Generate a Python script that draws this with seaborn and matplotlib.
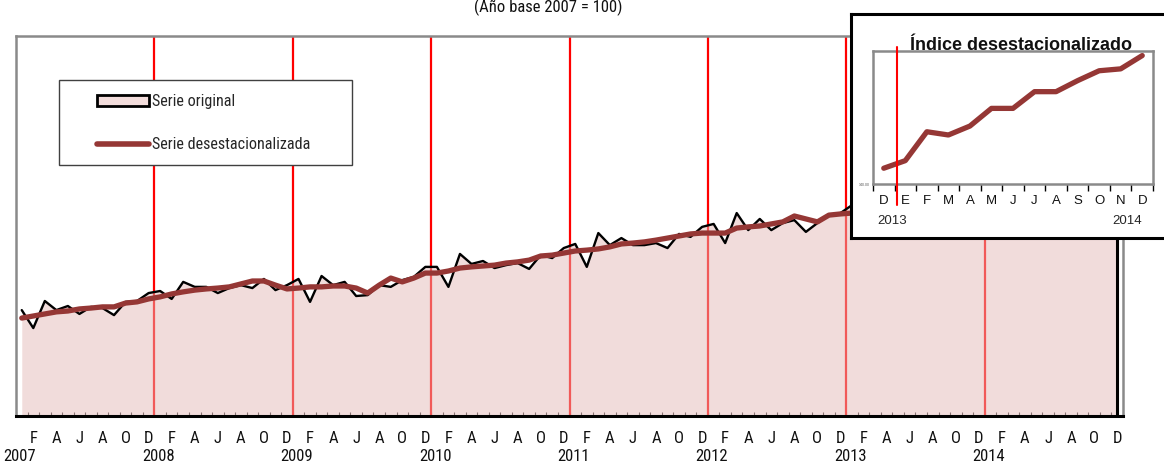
import matplotlib
matplotlib.use("Agg")
import matplotlib.pyplot as plt
from matplotlib import font_manager
from matplotlib.font_manager import FontProperties
from matplotlib.patches import Patch, Rectangle
from matplotlib.lines import Line2D
import seaborn as sns
import numpy as np
import pandas as pd

# ---- data -------------------------------------------------------------
month_letters = ["E", "F", "M", "A", "M", "J", "J", "A", "S", "O", "N", "D"]
years = [2007, 2008, 2009, 2010, 2011, 2012, 2013, 2014]

serie_original = [
    102.0, 95.9, 105.1, 102.0, 103.4, 100.7, 103.1, 102.7, 100.3, 104.8, 105.1, 107.8,
    108.5, 105.8, 111.6, 109.9, 109.9, 107.8, 109.5, 110.5, 109.5, 112.6, 108.8, 110.5,
    112.6, 104.8, 113.6, 110.5, 111.6, 106.8, 107.1, 110.5, 109.9, 112.2, 113.3, 116.7,
    116.7, 109.9, 121.1, 117.7, 118.7, 116.3, 117.3, 118.0, 116.0, 120.7, 119.7, 123.1,
    124.5, 116.7, 128.2, 124.1, 126.5, 124.1, 124.1, 124.8, 123.1, 127.9, 126.9, 130.3,
    131.3, 124.8, 135.0, 129.2, 133.0, 129.2, 131.6, 132.6, 128.6, 131.6, 134.3, 135.0,
    137.7, 131.0, 141.1, 136.1, 139.3, 136.1, 137.5, 137.6, 135.2, 139.9, 139.7, 142.0,
    143.9, 138.3, 147.6, 142.8, 146.2, 142.6, 144.2, 143.7, 141.5, 146.2, 145.6, 148.0,
]

serie_desestacionalizada = [
    99.3, 100.0, 100.7, 101.4, 101.7, 102.4, 102.7, 103.1, 103.1, 104.4, 104.8, 105.8,
    106.5, 107.5, 108.2, 108.8, 109.2, 109.5, 109.9, 110.9, 111.9, 111.9, 110.5, 109.2,
    109.5, 109.9, 109.9, 110.2, 110.2, 109.5, 107.8, 110.5, 112.9, 111.6, 112.9, 114.6,
    114.6, 115.3, 116.3, 116.7, 117.0, 117.3, 118.0, 118.4, 119.0, 120.4, 120.7, 121.4,
    122.1, 122.4, 122.8, 123.5, 124.5, 124.8, 125.2, 125.8, 126.5, 127.2, 127.9, 128.2,
    128.2, 128.2, 129.9, 130.3, 130.6, 131.3, 132.0, 134.0, 133.0, 132.0, 134.3, 134.7,
    135.0, 135.5, 136.1, 136.4, 137.1, 137.5, 138.2, 138.8, 139.1, 139.7, 140.2, 140.83,
    141.23, 142.75, 142.58, 143.05, 143.98, 143.98, 144.86, 144.86, 145.44, 145.96, 146.06, 146.76,
]

inset_labels = ["D", "E", "F", "M", "A", "M", "J", "J", "A", "S", "O", "N", "D"]
inset_years = ["2013", "2014"]
inset_values = serie_desestacionalizada[-13:]

# ---- styling ------------------------------------------------------------
sns.set_theme(style="white")
plt.rcParams["font.family"] = ["Liberation Sans", "DejaVu Sans"]


def find_narrow_font():
    """Pick a condensed sans-serif face if one is installed."""
    prefs = ["Liberation Sans Narrow", "Arial Narrow", "Roboto Condensed",
             "Open Sans Condensed", "Noto Sans Condensed", "DejaVu Sans Condensed"]
    cands = []
    for f in font_manager.fontManager.ttflist:
        tag = (f.name + " " + f.fname).lower()
        condensed = ("narrow" in tag or "condensed" in tag
                     or str(f.stretch) in ("condensed", "semi-condensed",
                                           "extra-condensed"))
        if not condensed:
            continue
        if f.style != "normal" or "bold" in tag or "italic" in tag or "oblique" in tag:
            continue
        if "mono" in tag or "serif" in tag.replace("sans-serif", ""):
            if "sans" not in tag:
                continue
        cands.append(f)

    def rank(f):
        tag = (f.name + " " + f.fname).lower()
        for i, p in enumerate(prefs):
            if p.lower().replace(" ", "") in tag.replace(" ", "").replace("-", ""):
                return i
        return len(prefs)

    cands.sort(key=rank)
    return cands[0].fname if cands else None


NARROW = find_narrow_font()


def narrow_fp(size):
    if NARROW:
        return FontProperties(fname=NARROW, size=size)
    return FontProperties(family=["Liberation Sans", "DejaVu Sans"], size=size * 0.92)


FILL = (228 / 255, 184 / 255, 182 / 255)
FILL_ALPHA = 0.49
MAROON = "#953735"
GRAY = "#8a8a8a"

W, H = 1164, 462
fig = plt.figure(figsize=(W / 100, H / 100), dpi=100)
fig.patch.set_facecolor("white")

# ---- main chart ---------------------------------------------------------
ax = fig.add_axes([16 / W, 46 / H, 1107 / W, 380 / H])
n = len(serie_original)
df = pd.DataFrame({
    "mes": np.arange(n),
    "original": serie_original,
    "desestacionalizada": serie_desestacionalizada,
})
YMIN, YMAX = 66, 195.2

# year separators
for k in range(1, len(years)):
    ax.axvline(12 * k - 0.5, color="#ff0000", lw=1.6, zorder=1)

ax.fill_between(df["mes"], YMIN, df["original"], color=FILL, alpha=FILL_ALPHA,
                lw=0, zorder=2)
sns.lineplot(data=df, x="mes", y="original", ax=ax, color="black", lw=1.7,
             zorder=3, legend=False)
ax.vlines(df["mes"].iloc[-1], YMIN, df["original"].iloc[-1], color="black",
          lw=2.2, zorder=3)
sns.lineplot(data=df, x="mes", y="desestacionalizada", ax=ax, color=MAROON,
             lw=3.8, zorder=4, legend=False, solid_capstyle="round")

ax.set_xlim(-0.5, n - 0.5)
ax.set_ylim(YMIN, YMAX)
ax.set_xlabel("")
ax.set_ylabel("")
ax.set_yticks([])

tick_pos = np.arange(1, n, 2)
ax.set_xticks(tick_pos)
ax.set_xticklabels([month_letters[i % 12] for i in tick_pos],
                   fontproperties=narrow_fp(12), color="#111111")
ax.tick_params(axis="x", which="major", length=0, pad=11)
ax.set_xticks(np.arange(-0.5, n, 1), minor=True)
ax.tick_params(axis="x", which="minor", direction="in", length=3, width=0.8,
               color="#333333", bottom=True)

for j, yr in enumerate(years):
    ax.text(12 * j - 0.15, -0.107, str(yr), transform=ax.get_xaxis_transform(),
            ha="center", va="center", fontproperties=narrow_fp(12), color="#111111")

for side in ("left", "top", "right"):
    ax.spines[side].set_color(GRAY)
    ax.spines[side].set_linewidth(1.8)
ax.spines["bottom"].set_color("black")
ax.spines["bottom"].set_linewidth(2.2)

# legend with a plain rectangular frame
def ax_x(px):
    return (px - 16) / 1107


def ax_y(py):
    return (416 - py) / 380


ax.add_patch(Rectangle((ax_x(59), ax_y(165)), ax_x(352) - ax_x(59),
                       ax_y(80) - ax_y(165), transform=ax.transAxes,
                       facecolor="white", edgecolor="#404040", lw=1.0, zorder=6))
handles = [
    Patch(facecolor="#f2dcdb", edgecolor="black", lw=2.0),
    Line2D([], [], color=MAROON, lw=4.0, solid_capstyle="round"),
]
leg = ax.legend(handles, ["Serie original", "Serie desestacionalizada"],
                loc="upper left", bbox_to_anchor=(ax_x(97), ax_y(94)),
                frameon=False, borderpad=0, borderaxespad=0,
                prop=narrow_fp(11.6), handlelength=3.2, handleheight=0.62,
                handletextpad=0.2, labelspacing=1.75)
leg.set_zorder(7)

fig.text(548 / W, 1 - 12 / H, "(Año base 2007 = 100)", ha="center",
         va="baseline", fontproperties=narrow_fp(12), color="#111111")

# ---- inset --------------------------------------------------------------
box = fig.add_axes([851 / W, (462 - 238) / H, (1172 - 851) / W, 224 / H])
box.set_zorder(5)
box.set_facecolor("white")
box.set_xticks([])
box.set_yticks([])
for s in box.spines.values():
    s.set_color("black")
    s.set_linewidth(2.2)

ins = fig.add_axes([873 / W, (462 - 184) / H, 280 / W, 133 / H])
ins.set_zorder(6)
ins.set_facecolor("white")
idf = pd.DataFrame({"k": np.arange(len(inset_values)), "v": inset_values})
sns.lineplot(data=idf, x="k", y="v", ax=ins, color=MAROON, lw=3.8,
             legend=False, solid_capstyle="round")
ins.set_xlim(-0.5, len(inset_values) - 0.5)
ins.set_ylim(140, 147)
ins.set_xlabel("")
ins.set_ylabel("")
ins.set_xticks(np.arange(len(inset_values)))
ins.set_xticklabels(inset_labels, fontsize=9.5, color="#111111")
ins.tick_params(axis="x", which="major", length=0, pad=8)
ins.set_xticks(np.arange(-0.5, len(inset_values), 1), minor=True)
ins.tick_params(axis="x", which="minor", direction="out", length=5, width=1,
                color="black", bottom=True)
ins.set_yticks([140])
ins.set_yticklabels(["140.00"], fontsize=2.5, color="#555555")
ins.tick_params(axis="y", length=0, pad=2)
for s in ins.spines.values():
    s.set_color(GRAY)
    s.set_linewidth(1.8)
ins.plot([0.6, 0.6], [1.03, -0.16], transform=ins.get_xaxis_transform(),
         color="#ff0000", lw=1.5, clip_on=False, zorder=5)
ins.text(0.4, -0.278, inset_years[0], transform=ins.get_xaxis_transform(),
         ha="center", va="center", fontsize=9.5)
ins.text(11.3, -0.278, inset_years[1], transform=ins.get_xaxis_transform(),
         ha="center", va="center", fontsize=9.5)
ins.set_title("Índice desestacionalizado", fontsize=13, fontweight="bold",
              pad=1.0, color="#111111", x=0.528)

fig.savefig("out.png", dpi=100, facecolor="white")
